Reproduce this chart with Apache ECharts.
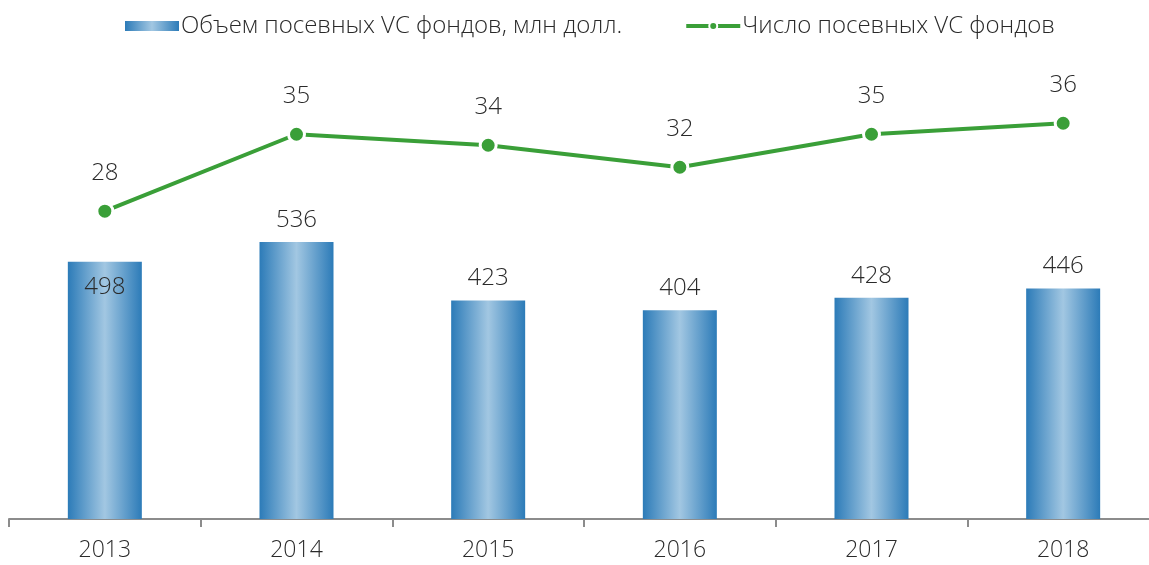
<!DOCTYPE html>
<html>
<head>
<meta charset="utf-8">
<script src="https://cdn.jsdelivr.net/npm/echarts@6/dist/echarts.min.js"></script>
<style>
  html, body { margin: 0; padding: 0; background: #fff; }
  #chart { width: 1149px; height: 565px; }
</style>
</head>
<body>
<div id="chart"></div>
<script>
var years = ["2013", "2014", "2015", "2016", "2017", "2018"];
var volume = [498, 536, 423, 404, 428, 446];
var funds = [28, 35, 34, 32, 35, 36];

var barName = "Объем посевных VC фондов, млн долл.";
var lineName = "Число посевных VC фондов";

var barGradient = new echarts.graphic.LinearGradient(0, 0, 1, 0, [
  { offset: 0, color: "#2c7bb8" },
  { offset: 0.5, color: "#a2c7e2" },
  { offset: 1, color: "#2c7bb8" }
]);

var green = "#3a9f38";
var font = "'Open Sans', 'Noto Sans', sans-serif";
var textColor = "#2a2a2a";

var chart = echarts.init(document.getElementById("chart"));

var option = {
  animation: false,
  textStyle: { fontFamily: font },
  legend: {
    top: 9,
    left: 120,
    itemGap: 62,
    itemWidth: 54,
    itemHeight: 10,
    lineStyle: { width: 4 },
    textStyle: { fontSize: 24, fontWeight: 300, color: textColor, fontFamily: font, padding: [0, 0, 0, -3] },
    data: [
      { name: barName, icon: "rect" },
      { name: lineName }
    ]
  },
  grid: { left: 9, width: 1150, top: 54, height: 465, containLabel: false, outerBoundsMode: "none" },
  xAxis: {
    type: "category",
    data: years,
    axisLine: { lineStyle: { color: "#8c8c8c", width: 2 } },
    axisTick: { show: true, length: 8, lineStyle: { color: "#8c8c8c", width: 2 } },
    axisLabel: { fontSize: 23, fontWeight: 300, color: textColor, margin: 20, fontFamily: font }
  },
  yAxis: [
    { type: "value", min: 0, max: 900, show: false, splitLine: { show: false } },
    { type: "value", min: 0, max: 42.3, show: false, splitLine: { show: false } }
  ],
  series: [
    {
      name: barName,
      type: "bar",
      barWidth: 74,
      yAxisIndex: 0,
      itemStyle: { color: barGradient },
      label: {
        show: true,
        position: "top",
        distance: 10,
        fontSize: 24,
        fontWeight: 300,
        color: textColor,
        fontFamily: font
      },
      data: volume.map(function (v, i) {
        return i === 0 ? { value: v, label: { position: "insideTop", distance: 13 } } : v;
      })
    },
    {
      name: lineName,
      type: "line",
      yAxisIndex: 1,
      symbol: "circle",
      symbolSize: 16,
      lineStyle: { color: green, width: 4 },
      itemStyle: { color: green, borderColor: "#fff", borderWidth: 3 },
      label: {
        show: true,
        position: "top",
        distance: 17,
        fontSize: 24,
        fontWeight: 300,
        color: textColor,
        fontFamily: font
      },
      data: funds
    }
  ]
};

chart.setOption(option);
</script>
</body>
</html>
